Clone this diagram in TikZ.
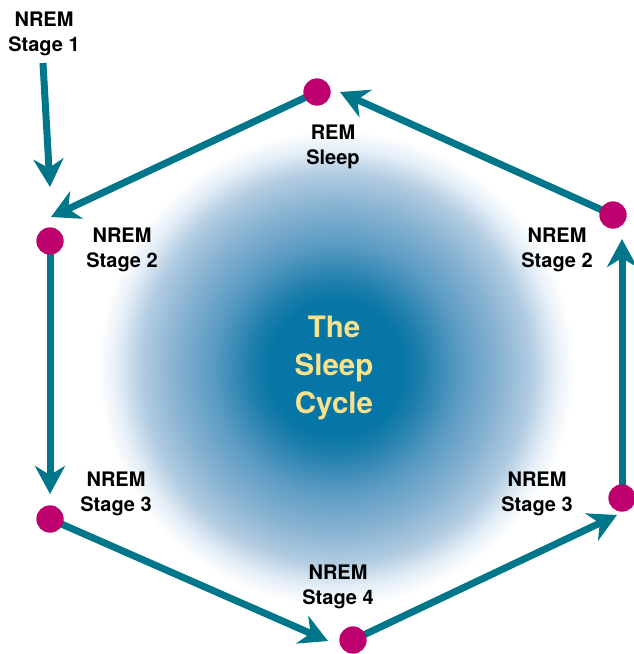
\documentclass[tikz,border=0pt]{standalone}
\usepackage{fontspec}
\setmainfont{TeX Gyre Heros}
\usetikzlibrary{arrows.meta}
\definecolor{teal}{HTML}{00768A}
\definecolor{dotc}{HTML}{BE006E}
\definecolor{yel}{HTML}{FAE18C}
\definecolor{core}{RGB}{6,118,166}
\definecolor{mid1}{RGB}{30,126,172}
\definecolor{mid2}{RGB}{90,155,195}
\definecolor{mid3}{RGB}{135,178,210}
\definecolor{mid4}{RGB}{178,204,225}
\definecolor{mid5}{RGB}{228,238,247}
\pgfdeclareradialshading{glow}{\pgfpoint{0bp}{0bp}}{%
  color(0bp)=(core); color(7bp)=(core); color(9bp)=(mid1);
  color(13bp)=(mid2); color(17bp)=(mid3); color(20.5bp)=(mid4);
  color(23bp)=(mid5); color(25bp)=(white); color(50bp)=(white)}
\begin{document}
\begin{tikzpicture}[x=1pt,y=-1pt,
  flow/.style={draw=teal,line width=7pt,-{Stealth[length=28pt,width=30pt,inset=9pt]}},
  sdot/.style={circle,fill=dotc,minimum size=27pt,inner sep=0pt},
  lab/.style={align=center,inner sep=0pt,font={\fontsize{20}{25}\selectfont\bfseries}},
  ctitle/.style={align=center,inner sep=0pt,text=yel,font={\fontsize{29.5}{38}\selectfont\bfseries}}]
\useasboundingbox (0,0) rectangle (633,654);
\shade[shading=glow] (336,368) circle[radius=238];
% dots
\node[sdot] (rem) at (317,92) {};
\node[sdot] (l2) at (50,241) {};
\node[sdot] (r2) at (613,215) {};
\node[sdot] (l3) at (50,519) {};
\node[sdot] (r3) at (622,498) {};
\node[sdot] (s4) at (353,640) {};
% arrow ends
\coordinate (t1s) at (43,63);
\coordinate (t1) at (50,187);
\coordinate (tl2) at (51,217);
\coordinate (tl3) at (50,494);
\coordinate (ts4) at (328,641);
\coordinate (tr3) at (617,515);
\coordinate (tr2) at (622,239);
\coordinate (trem) at (340,92);
\draw[flow] (t1s) -- (t1);
\draw[flow] (rem.center) -- (tl2);
\draw[flow] (l2.center) -- (tl3);
\draw[flow] (l3.center) -- (ts4);
\draw[flow] (s4.center) -- (tr3);
\draw[flow] (r3.center) -- (tr2);
\draw[flow] (r2.center) -- (trem);
% dots on top of the connectors
\foreach \n in {rem,l2,r2,l3,r3,s4}{\fill[dotc] (\n.center) circle[radius=13.5];}
% labels
\node[lab] (lab1) at (44,34) {NREM\\Stage 1};
\node[lab] (labrem) at (333,147) {REM\\Sleep};
\node[lab] (labl2) at (122,250) {NREM\\Stage 2};
\node[lab] (labr2) at (557,250) {NREM\\Stage 2};
\node[lab] (labl3) at (116,494) {NREM\\Stage 3};
\node[lab] (labr3) at (537,494) {NREM\\Stage 3};
\node[lab] (lab4) at (338,587) {NREM\\Stage 4};
\node[ctitle] (title) at (334,368) {The\\Sleep\\Cycle};
\end{tikzpicture}
\end{document}
